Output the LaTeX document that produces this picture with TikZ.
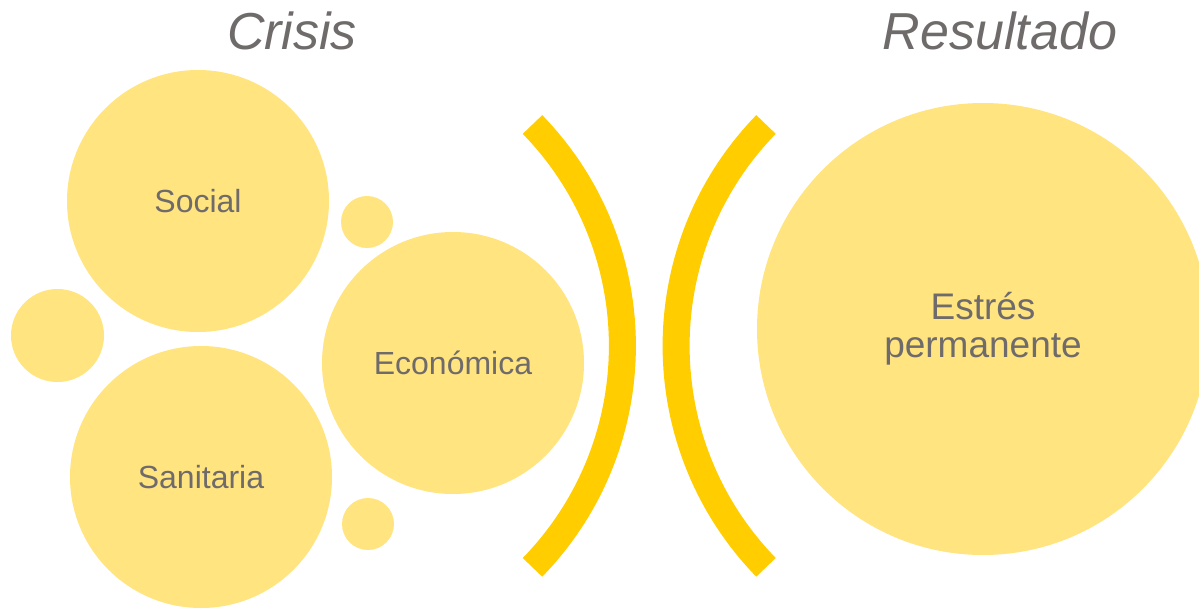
\documentclass[tikz,border=0pt]{standalone}
\usepackage{fontspec}
\setmainfont{Liberation Sans}
\definecolor{bubblefill}{HTML}{FFE480}
\definecolor{bracketgold}{HTML}{FFCD00}
\definecolor{labelgray}{HTML}{6F6B6B}

\begin{document}
\begin{tikzpicture}[x=1pt,y=1pt,
    bubble/.style={circle,fill=bubblefill,inner sep=0pt,text=labelgray,font=\fontsize{32}{36}\selectfont},
    heading/.style={text=labelgray,font=\fontsize{52}{60}\selectfont\itshape},
    bracketline/.style={draw=bracketgold,line width=27pt}]
    \useasboundingbox (0,0) rectangle (1199,-610);
    \node[heading,anchor=base] (crisis) at (292,-50) {Crisis};
    \node[heading,anchor=base] (resultado) at (1000,-49) {Resultado};
    \node[bubble,minimum size=262] (social) at (198,-201) {Social};
    \node[bubble,minimum size=262] (sanitaria) at (201,-477) {Sanitaria};
    \node[bubble,minimum size=262] (economica) at (453,-363) {Económica};
    \node[bubble,minimum size=93] (dotleft) at (57.5,-335.5) {};
    \node[bubble,minimum size=52] (dottop) at (367,-222) {};
    \node[bubble,minimum size=52] (dotbottom) at (368,-524) {};
    \node[bubble,minimum size=452,align=center,font=\fontsize{37}{38}\selectfont] (estres) at (983,-329) {Estrés\\permanente};
    \draw[bracketline] (532.5,-124.5) arc[start angle=44.2,end angle=-44.2,radius=317.6];
    \draw[bracketline] (766,-124.5) arc[start angle=135.8,end angle=224.2,radius=317.6];
\end{tikzpicture}
\end{document}
